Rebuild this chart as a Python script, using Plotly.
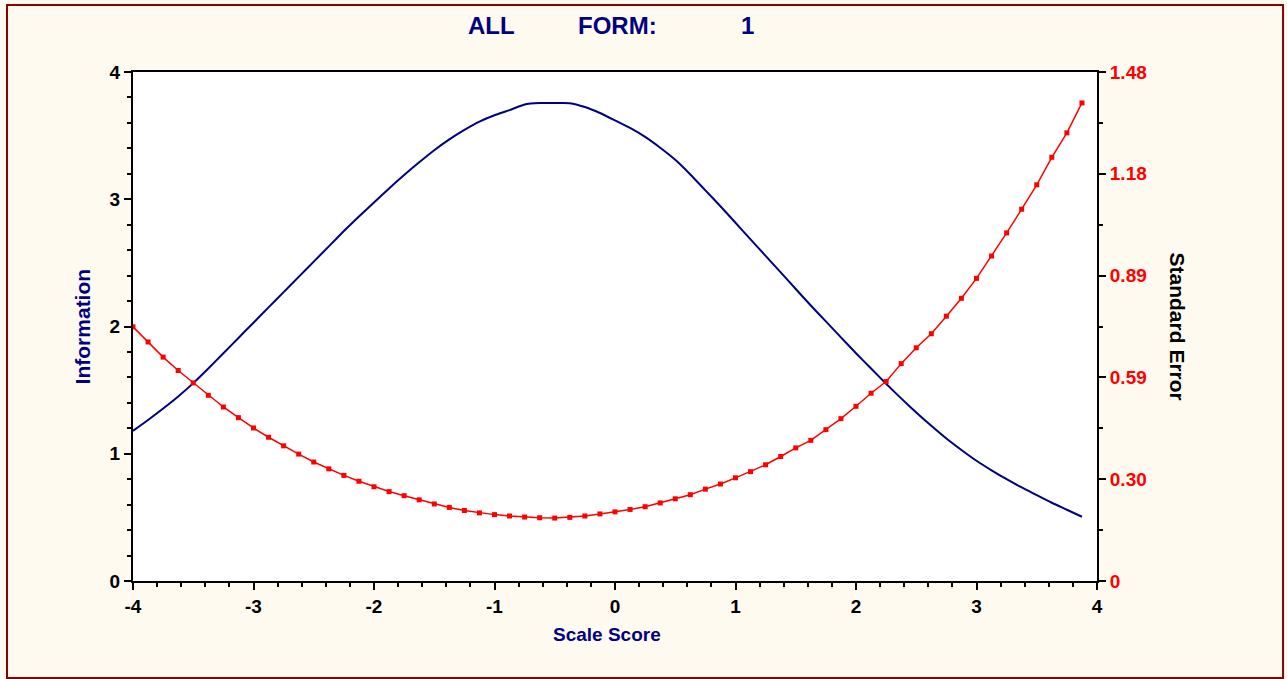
import plotly.graph_objects as go

# Scale score grid (step 0.125)
theta = [-4.000, -3.875, -3.750, -3.625, -3.500, -3.375, -3.250, -3.125,
         -3.000, -2.875, -2.750, -2.625, -2.500, -2.375, -2.250, -2.125,
         -2.000, -1.875, -1.750, -1.625, -1.500, -1.375, -1.250, -1.125,
         -1.000, -0.875, -0.750, -0.625, -0.500, -0.375, -0.250, -0.125,
         0.000, 0.125, 0.250, 0.375, 0.500, 0.625, 0.750, 0.875,
         1.000, 1.125, 1.250, 1.375, 1.500, 1.625, 1.750, 1.875,
         2.000, 2.125, 2.250, 2.375, 2.500, 2.625, 2.750, 2.875,
         3.000, 3.125, 3.250, 3.375, 3.500, 3.625, 3.750, 3.875]

information = [1.180, 1.265, 1.355, 1.450, 1.555, 1.670, 1.790, 1.910,
               2.030, 2.150, 2.270, 2.390, 2.510, 2.630, 2.750, 2.865,
               2.975, 3.085, 3.190, 3.290, 3.385, 3.470, 3.545, 3.610,
               3.660, 3.700, 3.745, 3.756, 3.756, 3.755, 3.725, 3.678,
               3.620, 3.560, 3.490, 3.405, 3.310, 3.195, 3.070, 2.945,
               2.815, 2.685, 2.555, 2.425, 2.295, 2.165, 2.040, 1.915,
               1.790, 1.670, 1.550, 1.435, 1.325, 1.220, 1.120, 1.030,
               0.945, 0.870, 0.800, 0.735, 0.675, 0.615, 0.560, 0.505]

std_error = [0.739, 0.695, 0.651, 0.612, 0.576, 0.540, 0.506, 0.475,
             0.445, 0.418, 0.393, 0.369, 0.346, 0.326, 0.307, 0.290,
             0.274, 0.260, 0.248, 0.236, 0.224, 0.214, 0.205, 0.198,
             0.193, 0.189, 0.186, 0.184, 0.183, 0.185, 0.189, 0.195,
             0.201, 0.208, 0.216, 0.227, 0.239, 0.251, 0.267, 0.282,
             0.300, 0.318, 0.338, 0.362, 0.387, 0.409, 0.440, 0.472,
             0.508, 0.546, 0.580, 0.632, 0.678, 0.719, 0.770, 0.822,
             0.880, 0.945, 1.012, 1.081, 1.152, 1.232, 1.303, 1.390]

x_tickvals = [-4, -3, -2, -1, 0, 1, 2, 3, 4]
x_ticktext = ["-4", "-3", "-2", "-1", "0", "1", "2", "3", "4"]
y_tickvals = [0, 1, 2, 3, 4]
y_ticktext = ["0", "1", "2", "3", "4"]
y2_tickvals = [0, 0.296, 0.592, 0.888, 1.184, 1.48]
y2_ticktext = ["0", "0.30", "0.59", "0.89", "1.18", "1.48"]
y2_minor = [0.148, 0.444, 0.740, 1.036, 1.332]

NAVY = "#000080"
RED = "#FF0000"
FONT = "Liberation Sans, Arial, sans-serif"


def bold(labels):
    return ["<b>" + t + "</b>" for t in labels]


fig = go.Figure()
fig.add_trace(go.Scatter(x=theta, y=information, mode="lines",
                         line=dict(color=NAVY, width=2, shape="spline", smoothing=0.6),
                         name="Information", showlegend=False))
fig.add_trace(go.Scatter(x=theta, y=std_error, mode="lines+markers", yaxis="y2",
                         line=dict(color=RED, width=1.5),
                         marker=dict(color=RED, size=5, symbol="square"),
                         name="Standard Error", showlegend=False))

tick_font = dict(size=19, color="black", family=FONT, weight="bold")

fig.update_layout(
    width=1287, height=679,
    margin=dict(l=133, r=190, t=72, b=98),
    paper_bgcolor="#FFFAF0",
    plot_bgcolor="#FFFFFF",
    font=dict(family=FONT),
    xaxis=dict(range=[-4, 4], tickvals=x_tickvals, ticktext=bold(x_ticktext),
               showgrid=False, zeroline=False,
               showline=True, linecolor="black", linewidth=2, mirror=True,
               ticks="outside", ticklen=7, tickwidth=2, tickcolor="black",
               tickfont=tick_font,
               minor=dict(dtick=0.2, ticks="outside", ticklen=4, tickwidth=2,
                          tickcolor="black", showgrid=False)),
    yaxis=dict(range=[0, 4], tickvals=y_tickvals, ticktext=bold(y_ticktext),
               showgrid=False, zeroline=False,
               showline=True, linecolor="black", linewidth=2,
               ticks="outside", ticklen=7, tickwidth=2, tickcolor="black",
               tickfont=tick_font,
               minor=dict(dtick=0.2, ticks="outside", ticklen=4, tickwidth=2,
                          tickcolor="black", showgrid=False)),
    yaxis2=dict(range=[0, 1.48], overlaying="y", side="right",
                tickvals=y2_tickvals, ticktext=bold(y2_ticktext),
                showgrid=False, zeroline=False,
                showline=True, linecolor="black", linewidth=2,
                ticks="outside", ticklen=7, tickwidth=2, tickcolor="black",
                tickfont=dict(size=19, color=RED, family=FONT, weight="bold"),
                minor=dict(tickvals=y2_minor, ticks="outside", ticklen=4,
                           tickwidth=2, tickcolor="black", showgrid=False)),
)

# Outer border
fig.add_shape(type="rect", xref="paper", yref="paper",
              x0=-0.1307, x1=1.193, y0=-0.1906, y1=1.1316,
              line=dict(color="#8B0000", width=2), layer="below")

title_font = dict(family=FONT, size=24, color=NAVY, weight="bold")
fig.add_annotation(text="ALL", xref="paper", yref="paper", x=0.372, y=1.122,
                   showarrow=False, font=title_font)
fig.add_annotation(text="FORM:", xref="paper", yref="paper", x=0.503, y=1.122,
                   showarrow=False, font=title_font)
fig.add_annotation(text="1", xref="paper", yref="paper", x=0.637, y=1.122,
                   showarrow=False, font=title_font)

fig.add_annotation(text="Information", xref="paper", yref="paper",
                   x=-0.066, y=0.5, textangle=-90, showarrow=False,
                   font=dict(family=FONT, size=21, color=NAVY, weight="bold"))
fig.add_annotation(text="Scale Score", xref="paper", yref="paper",
                   x=0.492, y=-0.13, showarrow=False,
                   font=dict(family=FONT, size=19, color=NAVY, weight="bold"))
fig.add_annotation(text="Standard Error", xref="paper", yref="paper",
                   x=1.098, y=0.5, textangle=90, showarrow=False,
                   font=dict(family=FONT, size=21, color="black", weight="bold"))

fig.write_html("out.html")
